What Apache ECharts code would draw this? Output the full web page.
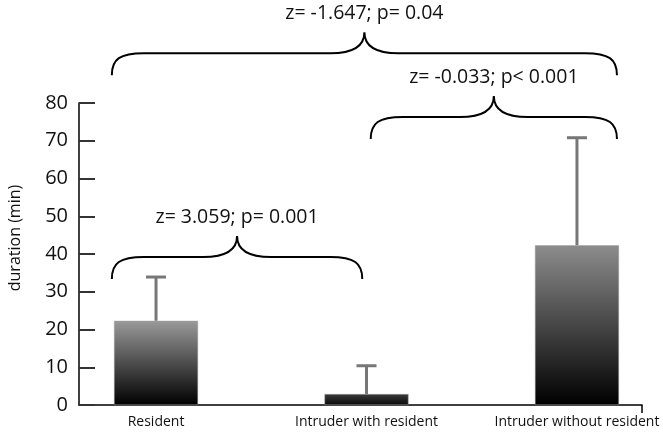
<!DOCTYPE html>
<html>
<head>
<meta charset="utf-8">
<script src="https://cdn.jsdelivr.net/npm/echarts@6/dist/echarts.min.js"></script>
<style>
  html, body { margin: 0; padding: 0; background: #fff; }
  #chart { width: 663px; height: 433px; }
</style>
</head>
<body>
<div id="chart"></div>
<script>
// data
const categories = ['Resident', 'Intruder with resident', 'Intruder without resident']
const means = [22.3, 2.9, 42.3]
const errors = [11.6, 7.5, 28.5]   // upper error bar length (min)
const yTicks = { min: 0, max: 80, interval: 10 }

// pairwise comparisons (braces)
const compLabels = ['z= 3.059; p= 0.001', 'z= -0.033; p< 0.001', 'z= -1.647; p= 0.04']
const compFrom = [0, 1, 0]
const compTo = [1, 2, 2]
const compLevel = [39.2, 76.3, 93.2]

const FONT = '"Open Sans", "DejaVu Sans", sans-serif'

const spanLeft = i => (i === 0 ? i - 0.21 : i + 0.02)
const spanRight = i => (i === categories.length - 1 ? i + 0.19 : i - 0.02)

const barGrad = (top, bottom) => new echarts.graphic.LinearGradient(0, 0, 0, 1, [
  { offset: 0, color: top },
  { offset: 1, color: bottom }
])
const barColors = [barGrad('#9a9a9a', '#000'), barGrad('#3a3a3a', '#0a0a0a'), barGrad('#8c8c8c', '#000')]

const chart = echarts.init(document.getElementById('chart'), null, { renderer: 'canvas' })

chart.setOption({
  animation: false,
  grid: { left: 79, right: 21, top: 103, bottom: 28, containLabel: false, outerBoundsMode: 'none' },
  xAxis: {
    type: 'value',
    min: -0.366,
    max: 2.309,
    splitLine: { show: false },
    axisLine: { lineStyle: { color: '#000', width: 1.5 } },
    axisTick: { show: true, customValues: [2.309], length: 8, lineStyle: { color: '#000', width: 1.5 } },
    axisLabel: {
      customValues: [0, 1, 2],
      formatter: v => categories[Math.round(v)],
      color: '#111', fontSize: 14, fontFamily: FONT, margin: 10
    }
  },
  yAxis: {
    type: 'value',
    min: yTicks.min, max: yTicks.max, interval: yTicks.interval,
    name: 'duration (min)',
    nameLocation: 'middle',
    nameGap: 56,
    nameTextStyle: { color: '#111', fontSize: 16, fontFamily: FONT, padding: [0, 0, 0, 32] },
    splitLine: { show: false },
    axisLine: { show: true, onZero: false, lineStyle: { color: '#000', width: 1.5 } },
    axisTick: { show: true, inside: true, length: 16, lineStyle: { color: '#333', width: 2 } },
    axisLabel: { color: '#111', fontSize: 20, fontFamily: FONT, margin: 11 }
  },
  series: [
    {
      type: 'bar',
      barWidth: 84,
      data: means.map((m, i) => ({ value: [i, m], itemStyle: { color: barColors[i] } })),
      itemStyle: { borderColor: '#a0a0a0', borderWidth: 0.5 }
    },
    {
      type: 'custom',
      clip: false,
      data: means.map((m, i) => [i, m, m + errors[i]]),
      renderItem: (params, api) => {
        const base = api.coord([api.value(0), api.value(1)])
        const top = api.coord([api.value(0), api.value(2)])
        const style = { stroke: '#777', lineWidth: 3 }
        return {
          type: 'group',
          children: [
            { type: 'line', shape: { x1: base[0], y1: base[1], x2: top[0], y2: top[1] }, style },
            { type: 'line', shape: { x1: top[0] - 10, y1: top[1], x2: top[0] + 10, y2: top[1] }, style }
          ]
        }
      }
    },
    {
      type: 'custom',
      clip: false,
      data: compLabels.map((t, i) => [spanLeft(compFrom[i]), spanRight(compTo[i]), compLevel[i]]),
      renderItem: (params, api) => {
        const l = api.coord([api.value(0), api.value(2)])
        const r = api.coord([api.value(1), api.value(2)])
        const y = l[1], xl = l[0], xr = r[0], xm = (xl + xr) / 2
        const h1 = 22, h2 = 21
        const path =
          `M${xl},${y + h1} C${xl},${y + 6} ${xl + 8},${y} ${xl + 32},${y} ` +
          `L${xm - 34},${y} C${xm - 10},${y} ${xm},${y - 8} ${xm},${y - h2} ` +
          `C${xm},${y - 8} ${xm + 10},${y} ${xm + 34},${y} ` +
          `L${xr - 32},${y} C${xr - 8},${y} ${xr},${y + 6} ${xr},${y + h1}`
        return {
          type: 'group',
          children: [
            { type: 'path', shape: { pathData: path }, style: { fill: null, stroke: '#000', lineWidth: 2 } },
            {
              type: 'text',
              x: xm, y: y - h2 - 19,
              style: {
                text: compLabels[params.dataIndex],
                font: `19.5px ${FONT}`,
                fill: '#111',
                align: 'center',
                verticalAlign: 'middle'
              }
            }
          ]
        }
      }
    }
  ]
})
</script>
</body>
</html>
